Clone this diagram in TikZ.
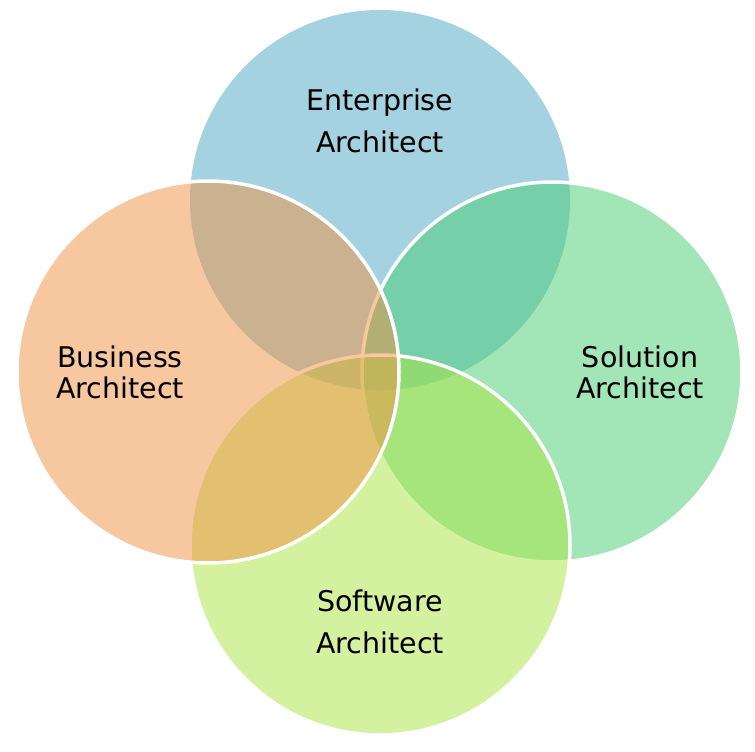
\documentclass[tikz,border=0pt]{standalone}
\usepackage{fontspec}
\setmainfont{DejaVu Sans}
\begin{document}
\begin{tikzpicture}[x=1pt,y=-1pt,
  ring/.style={fill opacity=0.5, draw=white, line width=3.5pt},
  label/.style={align=center, inner sep=0pt, text=black},
  wide/.style={label, font=\fontsize{28.5}{42}\selectfont},
  tight/.style={label, font=\fontsize{28.5}{31}\selectfont}]
  \definecolor{entblue}{RGB}{75,167,195}
  \definecolor{solgreen}{RGB}{71,205,113}
  \definecolor{softgreen}{RGB}{171,229,65}
  \definecolor{busorange}{RGB}{241,145,65}
  \fill[white] (0,0) rectangle (755,752);
  \useasboundingbox (0,0) rectangle (755,752);
  % the four roles, drawn back to front
  \fill[entblue, fill opacity=0.5] (380,200) circle[radius=190];
  \path[ring, fill=solgreen] (552,372) circle[radius=190];
  \path[ring, fill=softgreen] (380,545) circle[radius=190];
  \path[ring, fill=busorange] (208,372) circle[radius=191];
  % role names
  \node[wide] (ent) at (380,121) {Enterprise\\Architect};
  \node[tight] (bus) at (120,372.5) {Business\\Architect};
  \node[tight] (sol) at (640,372.5) {Solution\\Architect};
  \node[wide] (soft) at (380,621.5) {Software\\Architect};
\end{tikzpicture}
\end{document}
